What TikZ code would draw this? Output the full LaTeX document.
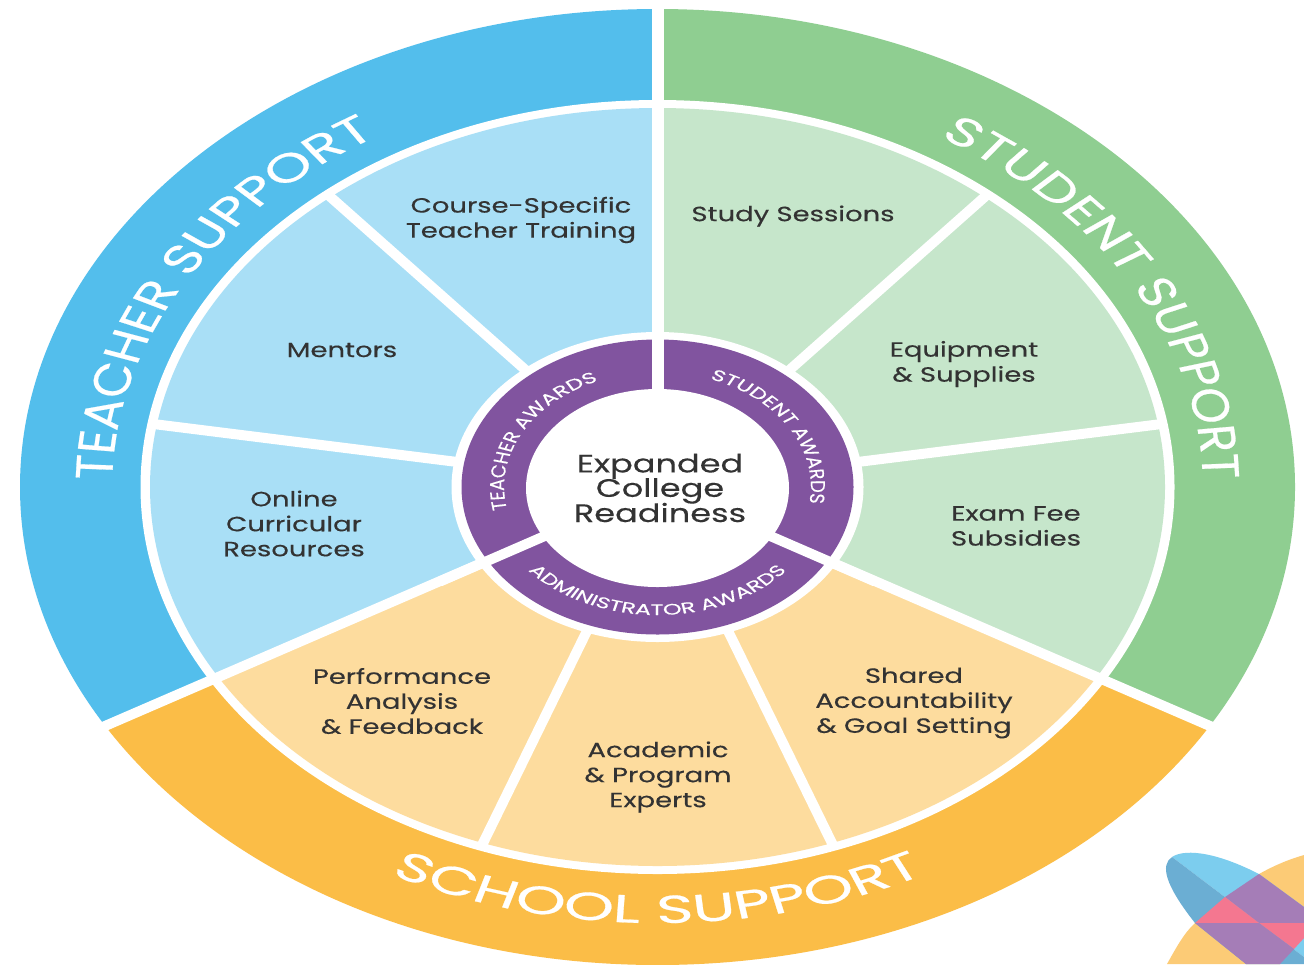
\documentclass[tikz,border=0pt]{standalone}
\usepackage{fontspec}
\setmainfont{Poppins}
\newfontfamily\labfont{Poppins}[FakeBold=0.3]
\newfontfamily\bandfam{Poppins}[FakeStretch=1.19,FakeBold=0.5]
\newfontfamily\schoolfam{Poppins}[FakeStretch=1.23,FakeBold=0.5]
\newfontfamily\awardfam{Poppins}[FakeStretch=1.18,FakeBold=0.2]
\usetikzlibrary{decorations.text}
\definecolor{cBlue}{HTML}{53BEEC}
\definecolor{cGreen}{HTML}{8FCE91}
\definecolor{cYellow}{HTML}{FBBD47}
\definecolor{cBlueL}{HTML}{A9DFF6}
\definecolor{cGreenL}{HTML}{C6E6CB}
\definecolor{cYellowL}{HTML}{FDDC9E}
\definecolor{cPurple}{HTML}{81549F}
\definecolor{cInk}{HTML}{333333}
\definecolor{lgSky}{HTML}{7CCDEE}
\definecolor{lgSea}{HTML}{6BAED3}
\definecolor{lgOrange}{HTML}{FCCB76}
\definecolor{lgViolet}{HTML}{A57DB7}
\definecolor{lgPink}{HTML}{F47790}
\newcommand\bandfont{\bandfam\fontsize{19.5}{19.5}\selectfont\color{white}}
\newcommand\schoolfont{\schoolfam\fontsize{19.5}{19.5}\selectfont\color{white}}
\newcommand\awardfont{\awardfam\fontsize{7.6}{7.6}\selectfont\color{white}}
\newcommand\ringsectors[5]{%
  \begin{scope}\clip (C)--(L)--(-1000,-1000)--(T)--cycle;
    \fill[#3] (C) ellipse [x radius=#1,y radius=#2];\end{scope}
  \begin{scope}\clip (C)--(T)--(2315,-1000)--(R)--cycle;
    \fill[#4] (C) ellipse [x radius=#1,y radius=#2];\end{scope}
  \begin{scope}\clip (C)--(L)--(-1000,3000)--(2315,3000)--(R)--cycle;
    \fill[#5] (C) ellipse [x radius=#1,y radius=#2];\end{scope}}
\tikzset{
  divider/.style={draw=white,line width=5pt},
  dividerwide/.style={draw=white,line width=6pt},
  lab/.style={align=center,xscale=1.333,transform shape,inner sep=0pt,text=cInk,
    font=\labfont\fontsize{10.3}{12.5}\selectfont},
  labbig/.style={lab,font=\labfont\fontsize{12.6}{12.35}\selectfont},
  curved/.style={decorate,decoration={text along path,text align=center,text={#1}}}
}
\begin{document}
\begin{tikzpicture}[x=.5pt,y=-.5pt]
\useasboundingbox (0,0) rectangle (1304,964);
\clip (0,0) rectangle (1304,964);
\fill[white] (0,0) rectangle (1304,964);
\coordinate (C) at (657.5,487);
\coordinate (T) at (657.5,-1000);
\coordinate (B) at (657.5,0);
\coordinate (L) at (-1000,1204);
\coordinate (R) at (2315,1204);
\ringsectors{637.5}{478}{cBlue}{cGreen}{cYellow}
\fill[white] (C) ellipse [x radius=517,y radius=387];
\ringsectors{507.5}{379}{cBlueL}{cGreenL}{cYellowL}
\begin{scope}
  \clip (C) ellipse [x radius=512,y radius=383];
  \coordinate (d1) at (57.5,-45);
  \coordinate (d2) at (1257.5,-45);
  \coordinate (d3) at (57.5,412);
  \coordinate (d4) at (1257.5,412);
  \coordinate (d5) at (461.5,887);
  \coordinate (d6) at (853.5,887);
  \foreach \p in {d1,d2,d3,d4,d5,d6} \draw[divider] (C)--(\p);
\end{scope}
\draw[dividerwide] (C)--(B);
\draw[divider] (C)--(L);
\draw[divider] (C)--(R);
\fill[white] (C) ellipse [x radius=206,y radius=155];
\fill[cPurple] (C) ellipse [x radius=196,y radius=147.5];
\draw[dividerwide] (C)--(657.5,330);
\draw[divider] (C)--(440,581.5);
\draw[divider] (C)--(875,581.5);
\fill[white] (657.5,488) ellipse [x radius=131.5,y radius=99];
% curved labels
\begin{scope}[transform canvas={shift={(657.5,487)},xscale=1.3333}]
\begin{scope}[x=.5pt,y=.5pt]
  \path[curved={|\bandfont|TEACHER SUPPORT}] (210:409) arc[start angle=210,end angle=90,radius=409];
  \path[curved={|\bandfont|STUDENT SUPPORT}] (90:409) arc[start angle=90,end angle=-30,radius=409];
  \path[curved={|\schoolfont|SCHOOL SUPPORT}] (-150:436) arc[start angle=-150,end angle=-30,radius=436];
  \path[curved={|\awardfont|TEACHER AWARDS}] (212:115) arc[start angle=212,end angle=92,radius=115];
  \path[curved={|\awardfont|STUDENT AWARDS}] (91:115) arc[start angle=91,end angle=-29,radius=115];
  \path[curved={|\awardfont|ADMINISTRATOR AWARDS}] (-160:128) arc[start angle=-160,end angle=-20,radius=128];
\end{scope}
\end{scope}
% horizontal labels
\node[lab] (course) at (521,220) {Course-Specific\\Teacher Training};
\node[lab] (study) at (793,216) {Study Sessions};
\node[lab] (mentors) at (342,350) {Mentors};
\node[lab] (equip) at (964,364) {Equipment\\\& Supplies};
\node[lab] (online) at (294,523.5) {Online\\Curricular\\Resources};
\node[lab] (exam) at (1016,526) {Exam Fee\\Subsidies};
\node[lab] (perf) at (402,701) {Performance\\Analysis\\\& Feedback};
\node[lab] (acad) at (658,777) {Academic\\\& Program\\Experts};
\node[lab] (shared) at (914,703) {Shared\\Accountability\\\& Goal Setting};
\node[labbig] (centre) at (660,488) {Expanded\\[-1.4pt]College\\[-1.4pt]Readiness};
% logo
\fill[lgOrange] (1167,964) .. controls (1176,948) and (1184,933) .. (1195,923)
  -- (1225,897) -- (1259,874) .. controls (1275,865) and (1290,859) .. (1304,855)
  -- (1304,938) -- (1280,964) -- cycle;
\fill[lgSky] (1172,857) .. controls (1182,850) and (1210,849) .. (1259,874)
  -- (1304,907) -- (1304,957) -- cycle;
\fill[lgSea] (1172,857) .. controls (1160,865) and (1165,885) .. (1195,923)
  -- (1246,964) -- (1304,964) -- (1304,957) -- cycle;
\fill[lgViolet] (1225,897) -- (1259,874) -- (1304,907) -- (1304,923) -- (1259,923) -- cycle;
\fill[lgPink] (1195,923) -- (1225,897) -- (1259,923) -- cycle;
\fill[lgPink] (1259,923) -- (1304,923) -- (1304,938) -- (1294,949) -- cycle;
\fill[lgViolet] (1195,923) -- (1259,923) -- (1294,949) -- (1280,964) -- (1246,964) -- cycle;
\end{tikzpicture}
\end{document}
